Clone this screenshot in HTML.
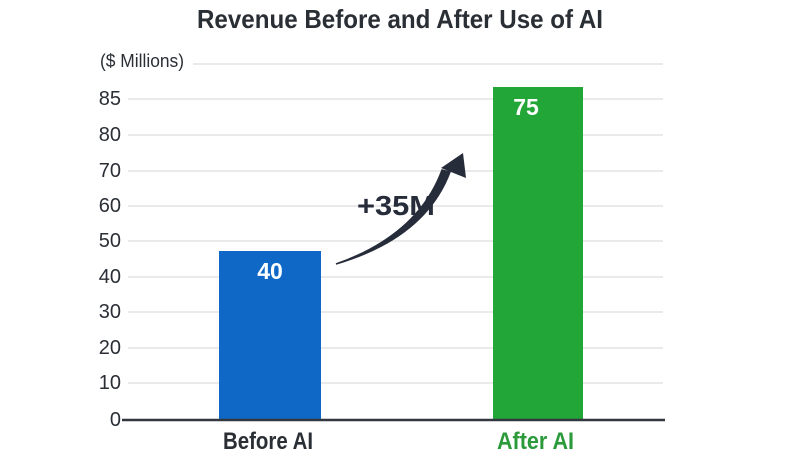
<!DOCTYPE html>
<html><head><meta charset="utf-8"><style>
body{margin:0;background:#fff;}
svg{display:block;}
text{font-family:"Liberation Sans Narrow","Liberation Sans",sans-serif;}
</style></head><body>
<svg width="800" height="473" viewBox="0 0 800 473">
<text x="197" y="28" font-size="26" font-weight="bold" fill="#2a2e35" textLength="406" lengthAdjust="spacingAndGlyphs">Revenue Before and After Use of AI</text>
<text x="100" y="67" font-size="18" fill="#2a2e35" textLength="84" lengthAdjust="spacingAndGlyphs">($ Millions)</text>
<g stroke="#e3e3e3" stroke-width="1.5">
<line x1="193" y1="64" x2="663" y2="64"/>
<line x1="128" y1="99" x2="663" y2="99"/>
<line x1="128" y1="135" x2="663" y2="135"/>
<line x1="128" y1="171" x2="663" y2="171"/>
<line x1="128" y1="206" x2="663" y2="206"/>
<line x1="128" y1="241" x2="663" y2="241"/>
<line x1="128" y1="277" x2="663" y2="277"/>
<line x1="128" y1="312" x2="663" y2="312"/>
<line x1="128" y1="348" x2="663" y2="348"/>
<line x1="128" y1="383" x2="663" y2="383"/>
</g>
<g font-size="20" fill="#2a2e35" text-anchor="end">
<text x="121" y="105">85</text>
<text x="121" y="141">80</text>
<text x="121" y="177">70</text>
<text x="121" y="212">60</text>
<text x="121" y="247">50</text>
<text x="121" y="283">40</text>
<text x="121" y="318">30</text>
<text x="121" y="354">20</text>
<text x="121" y="389">10</text>
<text x="121" y="426">0</text>
</g>
<rect x="219" y="251" width="102" height="169" fill="#0f68c6"/>
<rect x="493" y="87" width="90" height="333" fill="#23a638"/>
<line x1="122" y1="420" x2="665" y2="420" stroke="#333740" stroke-width="2.5"/>
<text x="270" y="279" text-anchor="middle" font-size="23" font-weight="bold" fill="#fff">40</text>
<text x="526" y="115" text-anchor="middle" font-size="23" font-weight="bold" fill="#fff">75</text>
<text x="357" y="215" font-size="28" font-weight="bold" fill="#262c3a" textLength="78" lengthAdjust="spacingAndGlyphs">+35M</text>
<path d="M336 264 Q425 238 450 172 L442 170 Q418 235 336 264 Z" fill="#262c3a" stroke="#262c3a" stroke-width="1.5"/>
<polygon points="463,153 466,178 441,168" fill="#262c3a"/>
<text x="223" y="449" font-size="24" font-weight="bold" fill="#2a2e35" textLength="90" lengthAdjust="spacingAndGlyphs">Before AI</text>
<text x="497" y="449" font-size="24" font-weight="bold" fill="#2a9a3a" textLength="77" lengthAdjust="spacingAndGlyphs">After AI</text>
</svg>
</body></html>
